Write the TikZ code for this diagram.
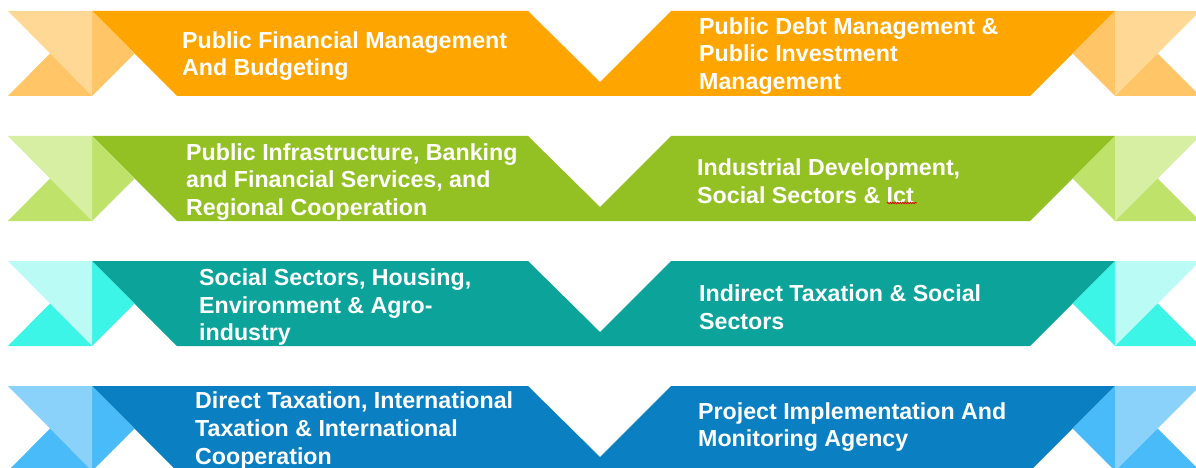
\documentclass[tikz,border=0pt]{standalone}
\usepackage{fontspec}
\setmainfont{Liberation Sans}
\usetikzlibrary{decorations.pathmorphing}

% band colours: body, fold, tail
\definecolor{mainorg}{RGB}{255,165,0}
\definecolor{foldorg}{RGB}{255,197,102}
\definecolor{tailorg}{RGB}{255,216,150}
\definecolor{maingrn}{RGB}{147,193,35}
\definecolor{foldgrn}{RGB}{191,227,106}
\definecolor{tailgrn}{RGB}{214,239,162}
\definecolor{maintea}{RGB}{11,163,154}
\definecolor{foldtea}{RGB}{60,245,231}
\definecolor{tailtea}{RGB}{187,251,246}
\definecolor{mainblu}{RGB}{10,127,194}
\definecolor{foldblu}{RGB}{74,187,249}
\definecolor{tailblu}{RGB}{139,210,251}

\begin{document}
\begin{tikzpicture}[x=1pt,y=-1pt,
txt/.style={
	anchor=west,align=left,inner sep=0pt,text=white,
	font=\bfseries\fontsize{23.2}{27.6}\selectfont}
]
\useasboundingbox (0,0) rectangle (1196,468);
\begin{scope}
\clip (0,0) rectangle (1196,468);
\foreach \t/\c in {11/org,136/grn,261/tea,386/blu}{
% body with the V cut in the middle
\fill[main\c] (92,\t) -- (528,\t) -- (600,\t+71) -- (671,\t) -- (1115,\t)
	-- (1030,\t+85) -- (177,\t+85) -- cycle;
% folds
\fill[fold\c] (92,\t) -- (134.5,\t+42.5) -- (92,\t+85) -- cycle;
\fill[fold\c] (1115,\t) -- (1072.5,\t+42.5) -- (1115,\t+85) -- cycle;
% tails
\fill[tail\c] (8,\t) -- (92,\t) -- (92,\t+85) -- (50,\t+42.5) -- cycle;
\fill[fold\c] (8,\t+85) -- (50,\t+42.5) -- (92,\t+85) -- cycle;
\fill[tail\c] (1115,\t) -- (1200,\t) -- (1157.5,\t+42.5) -- (1115,\t+85) -- cycle;
\fill[fold\c] (1115,\t+85) -- (1157.5,\t+42.5) -- (1200,\t+85) -- cycle;
}
\end{scope}

\node[txt] (pfm) at (182,56) {Public Financial Management\\And Budgeting};
\node[txt] (pdm) at (699,56) {Public Debt Management \&\\Public Investment\\Management};
\node[txt] (pib) at (186,182) {Public Infrastructure, Banking\\and Financial Services, and\\Regional Cooperation};
\node[txt] (ind) at (697,181.5) {Industrial Development,\\Social Sectors \& Ict};
\node[txt] (ssh) at (199,307) {Social Sectors, Housing,\\Environment \& Agro-\\industry};
\node[txt] (itx) at (699,307) {Indirect Taxation \& Social\\Sectors};
\node[txt] (dtx) at (195,430.5) {Direct Taxation, International\\Taxation \& International\\Cooperation};
\node[txt] (pia) at (698,427) {Project Implementation And\\Monitoring Agency};

% spelling mark under Ict
\draw[red!85!black,line width=0.8pt,decorate,decoration={snake,amplitude=0.7pt,segment length=2.5pt}]
	(887,203) -- (917,203);
\end{tikzpicture}
\end{document}
